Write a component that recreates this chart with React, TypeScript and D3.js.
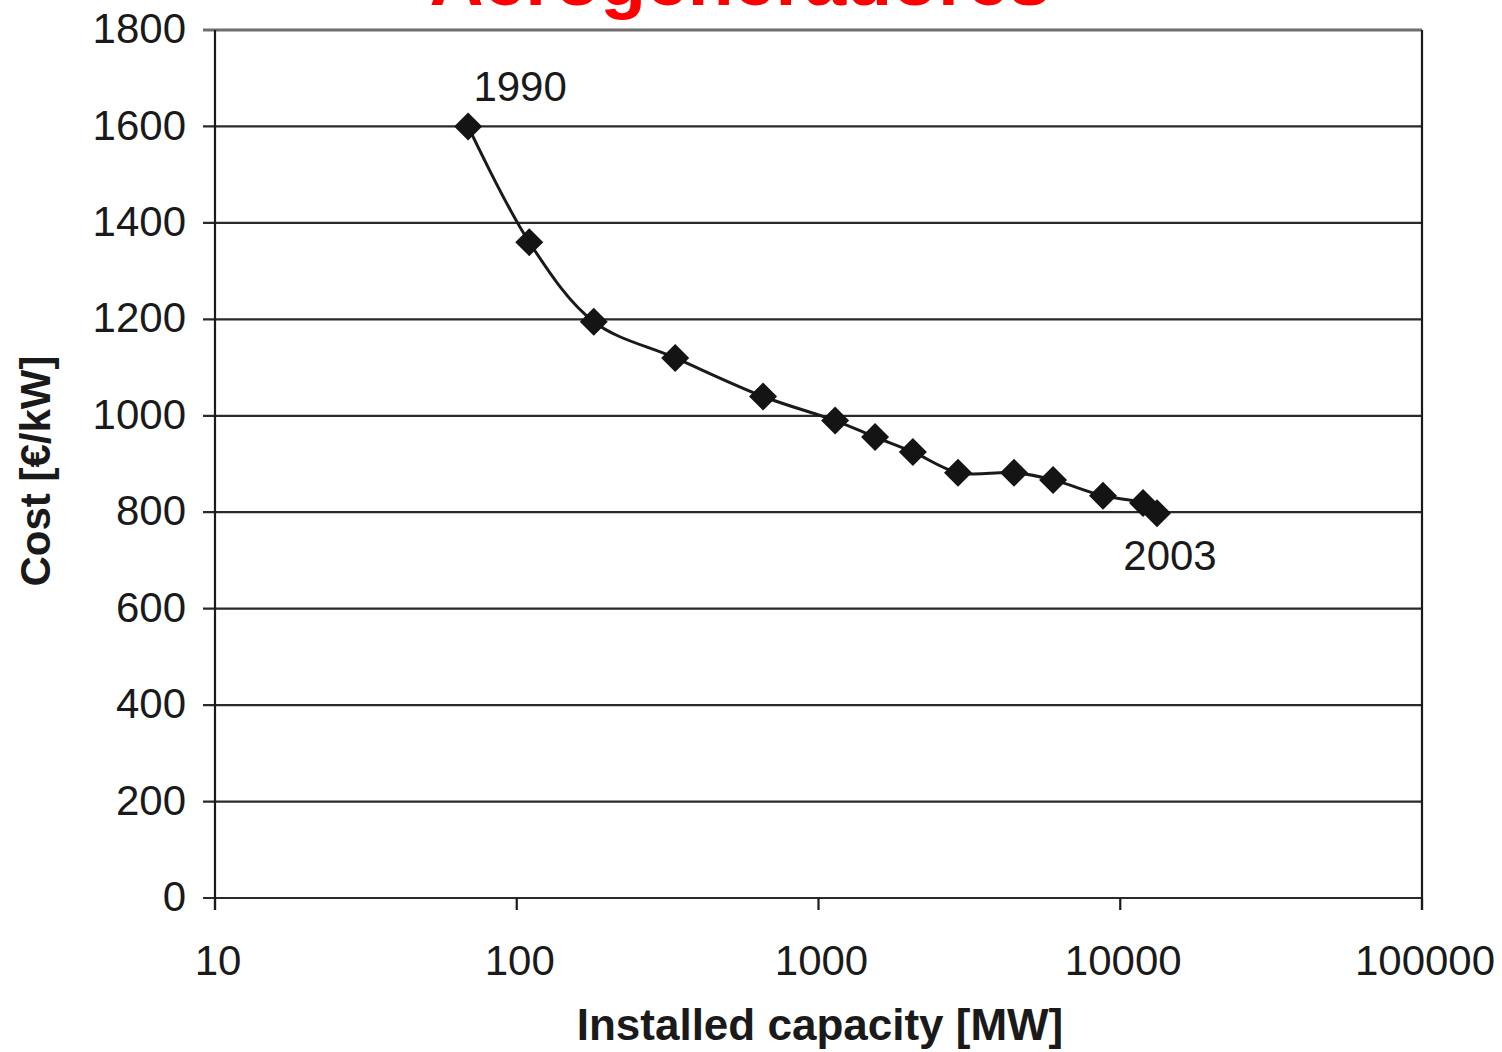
import React from "react";
import * as d3 from "d3";

const capacityMW = [69, 110, 180, 335, 655, 1135, 1540, 2055, 2900, 4445, 5990, 8765, 11900, 13240];
const costEurKW = [1600, 1360, 1195, 1120, 1040, 990, 956, 925, 882, 882, 867, 834, 819, 798];
const yTicks = [0, 200, 400, 600, 800, 1000, 1200, 1400, 1600, 1800];
const xTicks = [10, 100, 1000, 10000, 100000];
const titleText = "Aerogeneradores";
const xTitle = "Installed capacity [MW]";
const yTitle = "Cost [€/kW]";
const annotations = [
  { label: "1990", index: 0 },
  { label: "2003", index: 13 },
];

export default function App() {
  const W = 1502, H = 1052;
  const left = 215, right = 1422, top = 30, bottom = 898;
  const x = d3.scaleLog().domain([10, 100000]).range([left, right]);
  const y = d3.scaleLinear().domain([0, 1800]).range([bottom, top]);
  const pts = capacityMW.map((c, i) => [x(c), y(costEurKW[i])] as [number, number]);
  const line = d3.line().curve(d3.curveCatmullRom.alpha(0.5))(pts) || "";
  const font = "'Liberation Sans', Arial, sans-serif";
  const d = 14;
  return (
    <svg width={W} height={H} style={{ position: "absolute", left: 0, top: 0, background: "#fff" }} fontFamily={font}>
      <rect x={0} y={0} width={W} height={H} fill="#fff" />
      {yTicks.map((t) => (
        <g key={t}>
          <line x1={left - 12} x2={right} y1={y(t)} y2={y(t)} stroke={t === 1800 ? "#6e6e6e" : "#2a2a2a"} strokeWidth={t === 1800 ? 3 : 2.2} />
          <text x={186} y={y(t) - 2} dy="0.36em" textAnchor="end" fontSize={42} fill="#1a1a1a">{t}</text>
        </g>
      ))}
      <line x1={left} x2={left} y1={top} y2={bottom + 12} stroke="#1a1a1a" strokeWidth={2.2} />
      <line x1={right} x2={right} y1={top} y2={bottom + 12} stroke="#1a1a1a" strokeWidth={2.2} />
      {xTicks.map((t) => (
        <g key={t}>
          <line x1={x(t)} x2={x(t)} y1={bottom} y2={bottom + 12} stroke="#1a1a1a" strokeWidth={2.2} />
          <text x={x(t) + 3} y={975} textAnchor="middle" fontSize={42} fill="#1a1a1a">{t}</text>
        </g>
      ))}
      <path d={line} fill="none" stroke="#1a1a1a" strokeWidth={3} />
      {pts.map(([px, py], i) => (
        <path key={i} d={`M${px},${py - d}L${px + d},${py}L${px},${py + d}L${px - d},${py}Z`} fill="#141414" />
      ))}
      {annotations.map((a) => (
        <text key={a.label} x={a.index === 0 ? x(capacityMW[a.index]) + 52 : x(capacityMW[a.index]) + 13} y={a.index === 0 ? 101 : 570} textAnchor="middle" fontSize={42} fill="#1a1a1a">{a.label}</text>
      ))}
      <text x={820} y={1040} textAnchor="middle" fontSize={44} fontWeight="bold" fill="#1a1a1a">{xTitle}</text>
      <text transform="translate(50,471) rotate(-90)" textAnchor="middle" fontSize={42} fontWeight="bold" fill="#1a1a1a">{yTitle}</text>
      <text x={740} y={5} textAnchor="middle" fontSize={75} fontWeight="bold" fill="#ff0000">{titleText}</text>
    </svg>
  );
}
